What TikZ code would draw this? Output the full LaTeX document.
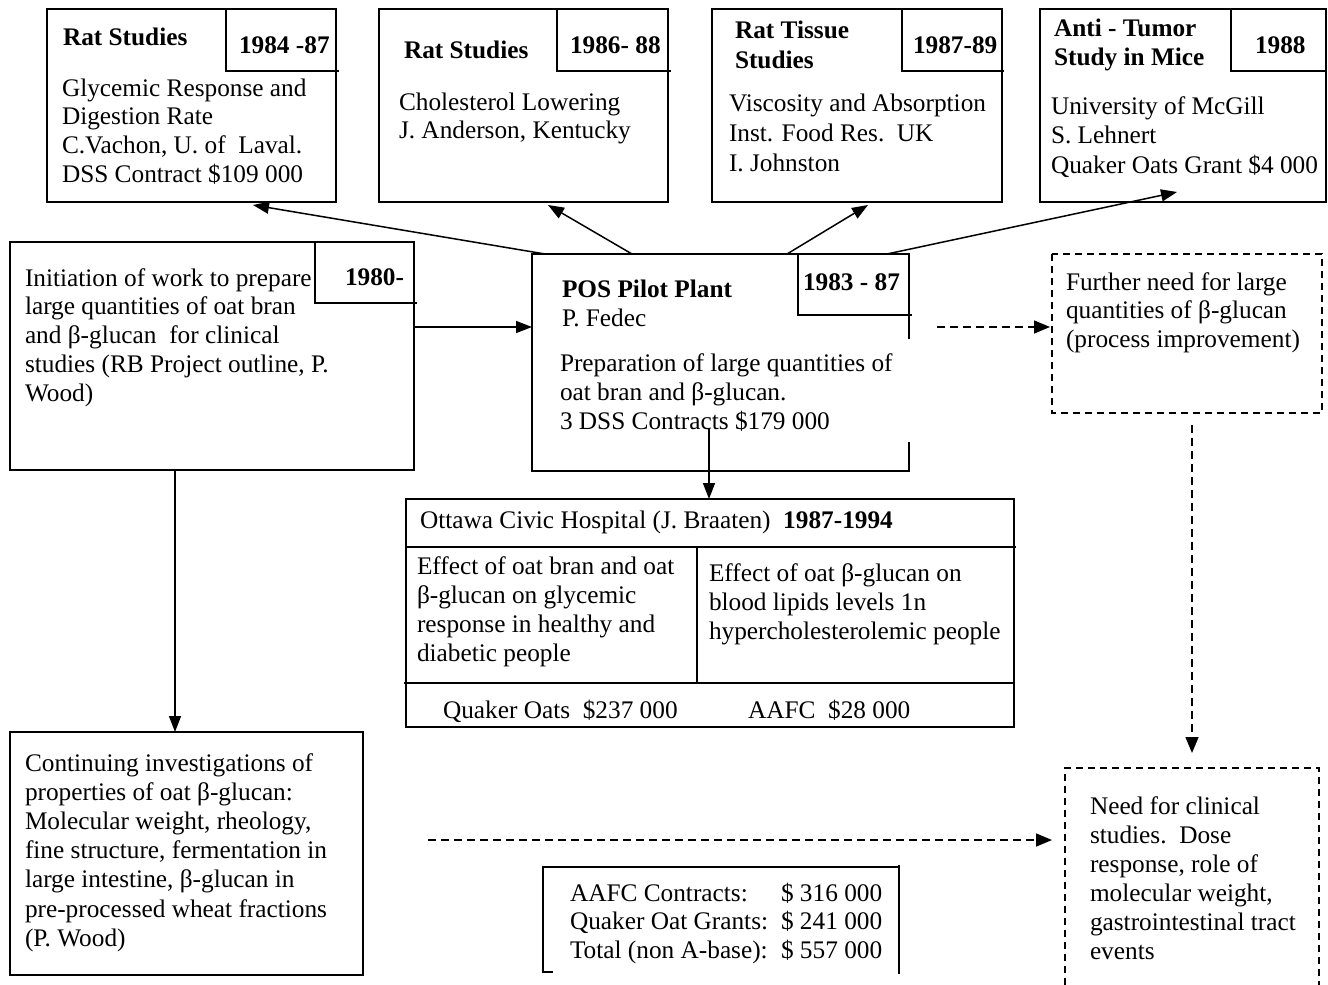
\documentclass[tikz,border=0pt]{standalone}
\usepackage{fontspec}
\setmainfont{Liberation Serif}
\usetikzlibrary{arrows.meta,calc}
\newcommand\ML[2]{\vtop{\baselineskip=#1pt\relax\lineskiplimit=-100pt\relax\def\\{\egroup\hbox\bgroup}\hbox\bgroup#2\egroup}}
\begin{document}
\begin{tikzpicture}[x=1pt,y=-1pt,
  every node/.style={inner sep=0pt, outer sep=0pt, font=\fontsize{25.3}{28.7}\selectfont},
  ln/.style={line width=1.5pt},
  box/.style={ln, draw, anchor=north west},
  hid/.style={anchor=north west},
  dbox/.style={ln, dash pattern=on 7pt off 5pt},
  txt/.style={anchor=base west},
  arr/.style={ln, -{Triangle[length=16pt,width=12pt]}},
  darr/.style={ln, dash pattern=on 8pt off 5pt, -{Triangle[length=16pt,width=13pt]}}
]
\useasboundingbox (0,0) rectangle (1328,985);
\fill[white] (0,0) rectangle (1328,985);

% ---- top row boxes
\node[box, minimum width=289pt, minimum height=193pt] (b1) at (47,9) {};
\draw[ln] (226,9) -- (226,71) -- (339,71);
\node[txt] (b1t) at (63,45) {\bfseries Rat Studies};
\node[txt] (b1y) at (239,53) {\bfseries 1984 -87};
\node[txt] (b1b) at (62,96) {\ML{28.7}{Glycemic Response and\\Digestion Rate\\C.Vachon, U. of\ \ Laval.\\DSS Contract \$109 000}};

\node[box, minimum width=289pt, minimum height=193pt] (b2) at (379,9) {};
\draw[ln] (557,9) -- (557,71) -- (671,71);
\node[txt] (b2t) at (404,58) {\bfseries Rat Studies};
\node[txt] (b2y) at (570,53) {\bfseries 1986- 88};
\node[txt] (b2b) at (399,110) {\ML{28}{Cholesterol Lowering\\J. Anderson, Kentucky}};

\node[box, minimum width=290pt, minimum height=193pt] (b3) at (712,9) {};
\draw[ln] (902,9) -- (902,71) -- (1004,71);
\node[txt] (b3t) at (735,38) {\bfseries\ML{30}{Rat Tissue\\Studies}};
\node[txt] (b3y) at (913,53) {\bfseries 1987-89};
\node[txt] (b3b) at (729,111) {\ML{30}{Viscosity and Absorption\\Inst. Food Res.\ \ UK\\I. Johnston}};

\node[box, minimum width=286pt, minimum height=193pt] (b4) at (1040,9) {};
\draw[ln] (1231,9) -- (1231,71) -- (1326,71);
\node[txt] (b4t) at (1054,36) {\bfseries\ML{29}{Anti - Tumor\\Study in Mice}};
\node[txt] (b4y) at (1255,53) {\bfseries 1988};
\node[txt] (b4b) at (1051,114) {\ML{29.7}{University of McGill\\S. Lehnert\\Quaker Oats Grant \$4 000}};

% ---- middle row
\node[box, minimum width=404pt, minimum height=228pt] (b5) at (10,242) {};
\draw[ln] (315,242) -- (315,303) -- (417,303);
\node[txt] (b5y) at (345,285) {\bfseries 1980-};
\node[txt] (b5b) at (25,286) {\ML{28.8}{Initiation of work to prepare\\large quantities of oat bran\\and β-glucan\ \ for clinical\\studies (RB Project outline, P.\\Wood)}};

\node[hid, minimum width=377pt, minimum height=217pt] (pos) at (532,254) {};
\draw[ln] (909,339) -- (909,254) -- (532,254) -- (532,471) -- (909,471) -- (909,442);
\draw[ln] (798,254) -- (798,315) -- (912,315);
\node[txt] (posy) at (803,290) {\bfseries 1983 - 87};
\node[txt] (post) at (562,297) {\bfseries POS Pilot Plant};
\node[txt] (posp) at (562,326) {P. Fedec};
\node[txt] (posb) at (560,371) {\ML{29}{Preparation of large quantities of\\oat bran and β-glucan.\\3 DSS Contracts \$179 000}};

\node[hid, minimum width=270pt, minimum height=159pt] (b7) at (1052,254) {};
\draw[dbox] (b7.north west) rectangle (b7.south east);
\node[txt] (b7b) at (1066,290) {\ML{28.7}{Further need for large\\quantities of β-glucan\\(process improvement)}};

% ---- Ottawa
\node[box, minimum width=608pt, minimum height=228pt] (ott) at (406,499) {};
\draw[ln] (406,547) -- (1016,547);
\draw[ln] (404,683) -- (1014,683);
\draw[ln] (697,547) -- (697,683);
\node[txt] (otth) at (420,528) {Ottawa Civic Hospital (J. Braaten)\ \ \textbf{1987-1994}};
\node[txt] (ottl) at (417,574) {\ML{29}{Effect of oat bran and oat\\β-glucan on glycemic\\response in healthy and\\diabetic people}};
\node[txt] (ottr) at (709,581) {\ML{29}{Effect of oat β-glucan on\\blood lipids levels 1n\\hypercholesterolemic people}};
\node[txt] (ottq) at (443,718) {Quaker Oats\ \ \$237 000};
\node[txt] (otta) at (748,718) {AAFC\ \ \$28 000};

% ---- bottom row
\node[box, minimum width=353pt, minimum height=243pt] (b9) at (10,732) {};
\node[txt] (b9b) at (25,771) {\ML{29.2}{Continuing investigations of\\properties of oat β-glucan:\\Molecular weight, rheology,\\fine structure, fermentation in\\large intestine, β-glucan in\\pre-processed wheat fractions\\(P. Wood)}};

\node[hid, minimum width=356pt, minimum height=105pt] (sum) at (543,867) {};
\draw[ln] (553,972) -- (543,972) -- (543,867) -- (899,867);
\draw[ln] (899,865) -- (899,974);
\node[txt] (suml) at (570,901) {\ML{28.8}{AAFC Contracts:\\Quaker Oat Grants:\\Total (non A-base):}};
\node[txt] (suma) at (781,901) {\ML{28.8}{\$ 316 000\\\$ 241 000\\\$ 557 000}};

\node[hid, minimum width=254pt, minimum height=217pt] (b8) at (1065,768) {};
\draw[dbox] (b8.south west) -- (b8.north west) -- (b8.north east) -- (b8.south east);
\node[txt] (b8b) at (1090,814) {\ML{29}{Need for clinical\\studies.\ \ Dose\\response, role of\\molecular weight,\\gastrointestinal tract\\events}};

% ---- connectors
\draw[arr] ($(pos.north west)+(13,0)$) -- ($(b1.south west)+(206,3)$);
\draw[arr] ($(pos.north west)+(100,0)$) -- ($(b2.south west)+(169,3)$);
\draw[arr] ($(pos.north west)+(255,0)$) -- ($(b3.south west)+(156,3)$);
\draw[arr] ($(pos.north west)+(355,0)$) -- ($(b4.south west)+(137,-10)$);

\draw[arr] (b5.east |- 0,327) -- (pos.west |- 0,327);
\coordinate (posin) at (709,428);
\draw[arr] (posin) -- (posin |- ott.north);
\draw[arr] (b5.south -| 175,0) -- (b9.north -| 175,0);

\coordinate (d1) at (937,327);
\draw[darr, shorten >=2pt] (d1) -- (b7.west |- d1);
\coordinate (d2) at (1192,425);
\draw[darr, shorten >=15pt] (d2) -- (d2 |- b8.north);
\coordinate (d3) at (428,840);
\draw[darr, shorten >=13pt] (d3) -- (b8.west |- d3);
\end{tikzpicture}
\end{document}
